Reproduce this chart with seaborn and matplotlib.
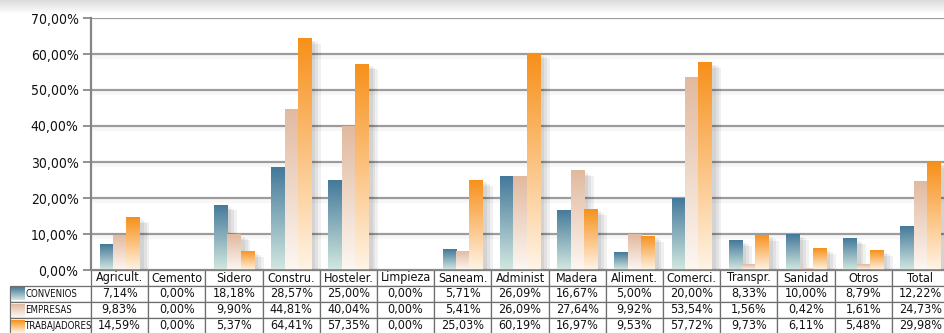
import numpy as np
import pandas as pd
import matplotlib
matplotlib.use("Agg")
import matplotlib.pyplot as plt
import seaborn as sns
from matplotlib import patheffects as pe
from matplotlib.colors import LinearSegmentedColormap
from matplotlib.ticker import FuncFormatter

# --- datos ---
categorias = ['Agricult.', 'Cemento', 'Sidero', 'Constru.', 'Hosteler.', 'Limpieza', 'Saneam.',
              'Administ', 'Madera', 'Aliment.', 'Comerci.', 'Transpr.', 'Sanidad', 'Otros', 'Total']
series = ['CONVENIOS', 'EMPRESAS', 'TRABAJADORES']
convenios = [7.14, 0.00, 18.18, 28.57, 25.00, 0.00, 5.71, 26.09, 16.67, 5.00, 20.00, 8.33, 10.00, 8.79, 12.22]
empresas = [9.83, 0.00, 9.90, 44.81, 40.04, 0.00, 5.41, 26.09, 27.64, 9.92, 53.54, 1.56, 0.42, 1.61, 24.73]
trabajadores = [14.59, 0.00, 5.37, 64.41, 57.35, 0.00, 25.03, 60.19, 16.97, 9.53, 57.72, 9.73, 6.11, 5.48, 29.98]

# colores degradados (arriba, abajo)
degradados = [('#44799a', '#d2e8e0'), ('#e1b99f', '#fdf7f2'), ('#f7901a', '#fff4e6')]

df = pd.DataFrame({
    'categoria': categorias * 3,
    'serie': np.repeat(series, len(categorias)),
    'valor': convenios + empresas + trabajadores,
})

sns.set_theme(style="white")
plt.rcParams['font.family'] = ['DejaVu Sans']
plt.rcParams['font.stretch'] = 'condensed'

W, H = 945, 333
fig = plt.figure(figsize=(W / 100, H / 100), dpi=100)

# sombra gris arriba
ax_sombra = fig.add_axes([0, 1 - 14 / H, 1, 14 / H])
ax_sombra.imshow(np.linspace(0, 1, 50).reshape(-1, 1), aspect='auto',
                 cmap=LinearSegmentedColormap.from_list('s', ['#ffffff', '#dcdcdc']), origin='lower')
ax_sombra.axis('off')

ax_px_w = 949 - 91
ax_px_h = 270 - 18
ax = fig.add_axes([91 / W, (H - 270) / H, ax_px_w / W, ax_px_h / H])

sns.barplot(data=df, x='categoria', y='valor', hue='serie', order=categorias, hue_order=series,
            palette=[d[0] for d in degradados], width=0.7, saturation=1, legend=False,
            linewidth=0, ax=ax)

# sombra difusa a la derecha de cada barra
sombra = [pe.SimplePatchShadow(offset=(o, -o * 0.6), shadow_rgbFace='#000000', alpha=0.06)
          for o in (7, 5, 3)] + [pe.Normal()]

grad = np.linspace(0, 1, 200).reshape(-1, 1)
for cont, (arriba, abajo) in zip(ax.containers, degradados):
    cmap = LinearSegmentedColormap.from_list('g', [abajo, arriba])
    for bar in cont:
        h = bar.get_height()
        if h <= 0:
            continue
        x0, w = bar.get_x(), bar.get_width()
        bar.set_path_effects(sombra)
        img = ax.imshow(grad, cmap=cmap, aspect='auto', origin='lower',
                        extent=[x0, x0 + w, 0, h], zorder=bar.get_zorder() + 0.1)
        img.set_clip_path(bar)

# ejes
ax.set_axisbelow(True)
ax.yaxis.grid(True, color='#9c9c9c', linewidth=1.6)
for gl in ax.yaxis.get_gridlines():
    gl.set_path_effects([pe.SimpleLineShadow(offset=(0, -2), shadow_color='#000000', alpha=0.03, linewidth=3),
                         pe.Normal()])
ax.set_yticks(np.arange(0, 71, 10))
ax.yaxis.set_major_formatter(FuncFormatter(lambda v, p: f'{v:.2f}'.replace('.', ',') + '%'))
ax.tick_params(axis='y', left=True, length=6, width=1.2, color='#808080', labelsize=10,
               labelcolor='#111111', pad=3)
ax.set_xticks([])
ax.set_xlabel('')
ax.set_ylabel('')
for lado in ['top', 'right']:
    ax.spines[lado].set_visible(False)
ax.spines['left'].set_color('#858585')
ax.spines['left'].set_linewidth(1.6)
ax.spines['bottom'].set_color('#858585')

# --- tabla ---
fmt = lambda v: f'{v:.2f}'.replace('.', ',') + '%'
celdas = [[s] + [fmt(v) for v in vals] for s, vals in zip(series, (convenios, empresas, trabajadores))]
ancho_lab = 81
anchos = [ancho_lab] + [ax_px_w / 15] * 15
alto_fila = 16
tabla = ax.table(cellText=celdas, colLabels=[''] + categorias, cellLoc='center',
                 colWidths=[a / ax_px_w for a in anchos],
                 bbox=[-ancho_lab / ax_px_w, -4 * alto_fila / ax_px_h, 1 + ancho_lab / ax_px_w,
                       4 * alto_fila / ax_px_h])
tabla.auto_set_font_size(False)
tabla.set_fontsize(9)
for (r, c), cell in tabla.get_celld().items():
    cell.set_edgecolor('#6e6e6e')
    cell.set_linewidth(0.9)
    cell.get_text().set_color('#111111')
    if r == 0 and c == 0:
        cell.set_edgecolor('none')
    if c == 0 and r > 0:
        cell._loc = 'left'
        cell.get_text().set_ha('left')
        cell.get_text().set_fontsize(6.9)
        cell.PAD = 15 / ancho_lab

# muestras de color en la tabla
for i, (arriba, abajo) in enumerate(degradados):
    cmap = LinearSegmentedColormap.from_list('m', [abajo, arriba])
    yc = -((i + 1) * alto_fila + alto_fila / 2) / ax_px_h
    ax.imshow(grad, cmap=cmap, aspect='auto', origin='lower', transform=ax.transAxes, clip_on=False,
              extent=[(11 - 91) / ax_px_w, (25 - 91) / ax_px_w, yc - 6.5 / ax_px_h, yc + 6.5 / ax_px_h],
              zorder=6)

ax.set_xlim(-0.5, 14.5)
ax.set_ylim(0, 70)

plt.savefig('out.png', dpi=100)
